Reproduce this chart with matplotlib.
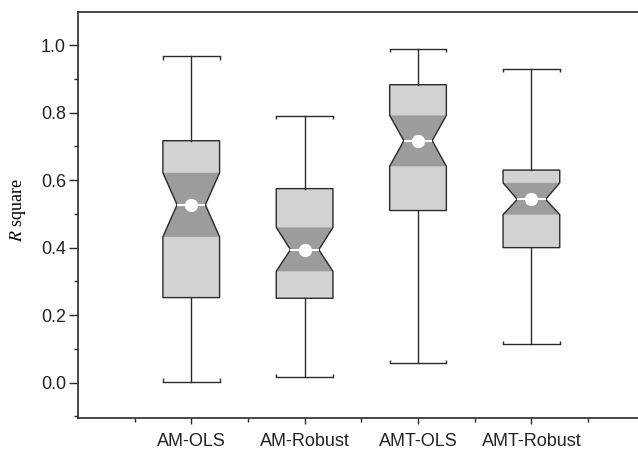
import matplotlib
matplotlib.use("Agg")
import matplotlib.pyplot as plt
from matplotlib.patches import PathPatch
from matplotlib.ticker import MultipleLocator, FixedLocator

plt.rcParams["font.family"] = ["Liberation Sans", "DejaVu Sans"]
plt.rcParams["mathtext.fontset"] = "stix"

# box statistics
labels = ["AM-OLS", "AM-Robust", "AMT-OLS", "AMT-Robust"]
whislo = [0.003, 0.016, 0.057, 0.113]
q1 = [0.252, 0.250, 0.510, 0.400]
cilo = [0.432, 0.330, 0.641, 0.498]
med = [0.527, 0.394, 0.717, 0.543]
cihi = [0.622, 0.460, 0.792, 0.592]
q3 = [0.717, 0.575, 0.883, 0.630]
whishi = [0.967, 0.790, 0.989, 0.930]

LIGHT = "#d2d2d2"
DARK = "#9c9c9c"
EDGE = "#2a2a2a"
W = 0.5

stats = []
for i, lab in enumerate(labels):
    stats.append(dict(label=lab, whislo=whislo[i], q1=q1[i], med=med[i], q3=q3[i],
                      whishi=whishi[i], cilo=cilo[i], cihi=cihi[i], mean=med[i],
                      fliers=[]))

fig = plt.figure(figsize=(6.38, 4.5), dpi=100)
ax = fig.add_axes([0.122, 0.071, 0.878, 0.902])

pos = list(range(1, len(labels) + 1))
bp = ax.bxp(stats, positions=pos, widths=W, shownotches=True, patch_artist=True,
            showmeans=True, showfliers=False,
            boxprops=dict(facecolor=LIGHT, edgecolor="none", zorder=2),
            medianprops=dict(color="white", linewidth=1.5, zorder=4),
            whiskerprops=dict(color=EDGE, linewidth=1.0),
            capprops=dict(color=EDGE, linewidth=1.0),
            meanprops=dict(marker="o", markerfacecolor="white", markeredgecolor="white",
                           markersize=8.5, zorder=5),
            capwidths=W)

for i, p in enumerate(pos):
    # darker notch region
    xs = [p - W / 2, p - W / 4, p - W / 2, p + W / 2, p + W / 4, p + W / 2]
    ys = [cilo[i], med[i], cihi[i], cihi[i], med[i], cilo[i]]
    ax.fill(xs, ys, color=DARK, lw=0, zorder=2.5)
    # outline on top
    outline = PathPatch(bp["boxes"][i].get_path(), facecolor="none",
                        edgecolor=EDGE, linewidth=1.0, zorder=3)
    ax.add_patch(outline)
    # small hooks at the cap ends
    ax.vlines([p - W / 2, p + W / 2], whishi[i] - 0.01, whishi[i], color=EDGE, lw=1.0)
    ax.vlines([p - W / 2, p + W / 2], whislo[i], whislo[i] + 0.01, color=EDGE, lw=1.0)

ax.set_xlim(0, 4.94)
ax.set_ylim(-0.105, 1.098)

ax.set_xticks(pos)
ax.set_xticklabels(labels, fontsize=13)
ax.xaxis.set_minor_locator(FixedLocator([0.5, 1.5, 2.5, 3.5, 4.5]))
ax.yaxis.set_major_locator(MultipleLocator(0.2))
ax.yaxis.set_minor_locator(MultipleLocator(0.1))
ax.set_yticklabels([f"{v:.1f}" for v in ax.get_yticks()], fontsize=13)
ax.tick_params(axis="y", which="major", direction="out", length=6.5, width=1, color=EDGE, pad=2)
ax.tick_params(axis="y", which="minor", direction="out", length=3, width=1, color=EDGE)
ax.tick_params(axis="x", which="major", direction="out", length=4, width=1, color=EDGE, pad=7)
ax.tick_params(axis="x", which="minor", direction="out", length=3, width=1, color=EDGE)
ax.tick_params(labelcolor="#222222")

for s in ["left", "bottom", "top"]:
    ax.spines[s].set_linewidth(1.2)
    ax.spines[s].set_color(EDGE)
ax.spines["right"].set_visible(False)

ax.set_ylabel("$R$ square", fontsize=13, fontfamily="Liberation Serif")
ax.yaxis.set_label_coords(-0.089, 0.512)

fig.savefig("out.png", dpi=100)
